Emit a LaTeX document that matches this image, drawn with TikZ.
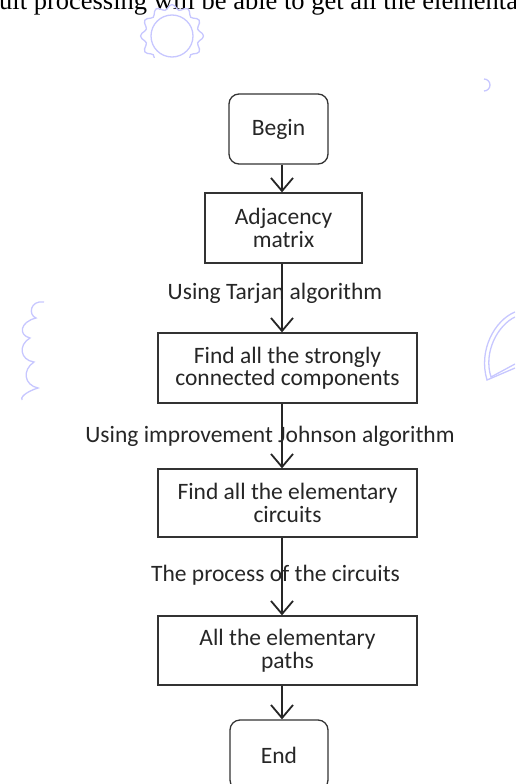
\documentclass[tikz,border=0pt]{standalone}
\usepackage{fontspec}
\setmainfont{Carlito}
\newfontfamily\serifpaper{Liberation Serif}
\usetikzlibrary{arrows.meta}
\tikzset{
  x=1pt,y=1pt,
  boxstyle/.style={draw=black!80, line width=1.3pt, fill=white, inner sep=0pt,
    align=center, font=\fontsize{23.5}{22.5}\selectfont, text=black!85},
  roundbox/.style={boxstyle, rounded corners=10pt},
  lbl/.style={inner sep=0pt, font=\fontsize{23.5}{22.5}\selectfont, text=black!85},
  arr/.style={line width=1.6pt, black!85, -{Straight Barb[length=13pt,width=22pt,line width=1.8pt]}},
  wm/.style={draw=blue!22, line width=1.3pt}
}
\begin{document}
\begin{tikzpicture}
\useasboundingbox (0,0) rectangle (515,-784);
\clip (0,0) rectangle (515,-784);
% cropped text line of the source page
\node[anchor=base west, inner sep=0pt, font=\serifpaper\fontsize{26.5}{28}\selectfont] (paper) at (-1,-10) {uit processing will be able to get all the elementa};
% faint watermark ornaments
\begin{scope}
\clip (100,-4) rectangle (240,-58);
\draw[wm] (172,-36) circle (21);
\draw[wm] plot[domain=0:360, samples=73, smooth] ({172+(29+2.5*cos(12*\x))*cos(\x)}, {-36+(29+2.5*cos(12*\x))*sin(\x)});
\end{scope}
\draw[wm] (484,-79) arc (90:-90:6);
\draw[wm] (44,-302) .. controls (30,-300) and (28,-315) .. (36,-318) .. controls (20,-322) and (18,-335) .. (30,-338) .. controls (18,-345) and (20,-360) .. (34,-362) .. controls (22,-370) and (24,-385) .. (38,-388) .. controls (25,-392) and (20,-398) .. (22,-400);
\draw[wm] (515,-312) .. controls (495,-320) and (478,-350) .. (487,-380) -- (515,-368);
\draw[wm] (515,-317) .. controls (498,-325) and (483,-352) .. (491,-377) -- (515,-364);
% flowchart
\coordinate (ax) at (282,0);
\node[roundbox, minimum width=99pt, minimum height=70pt] (begin) at (278.5,-129) {Begin};
\node[boxstyle, minimum width=157pt, minimum height=70pt] (adj) at (283.5,-228) {Adjacency\\matrix};
\node[boxstyle, minimum width=259pt, minimum height=70pt] (scc) at (287.5,-368) {Find all the strongly\\connected components};
\node[boxstyle, minimum width=259pt, minimum height=68pt] (circ) at (287.5,-503) {Find all the elementary\\circuits};
\node[boxstyle, minimum width=259pt, minimum height=69pt] (paths) at (287.5,-650.5) {All the elementary\\paths};
\node[roundbox, minimum width=98pt, minimum height=70pt] (end) at (279,-755) {End};
\node[lbl] (l1) at (275,-293) {Using Tarjan algorithm};
\node[lbl] (l2) at (270,-436) {Using improvement Johnson algorithm};
\node[lbl] (l3) at (275.5,-575) {The process of the circuits};
\draw[arr] (begin.south -| ax) -- (adj.north -| ax);
\draw[arr] (adj.south -| ax) -- (scc.north -| ax);
\draw[arr] (scc.south -| ax) -- (circ.north -| ax);
\draw[arr] (circ.south -| ax) -- (paths.north -| ax);
\draw[arr] (paths.south -| ax) -- (end.north -| ax);
\end{tikzpicture}
\end{document}
